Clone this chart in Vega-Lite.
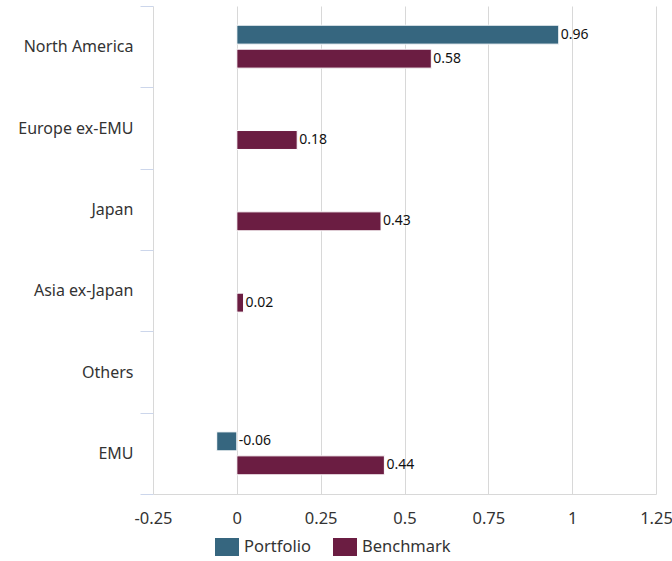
{
  "$schema": "https://vega.github.io/schema/vega-lite/v6.json",
  "width": 503,
  "height": 488,
  "autosize": "none",
  "padding": {"left": 153, "top": 6, "right": 16, "bottom": 67},
  "background": "white",
  "config": {
    "font": "Noto Sans",
    "view": {"stroke": null}
  },
  "data": {
    "values": [
      {"region": "North America", "series": "Portfolio", "value": 0.96},
      {"region": "North America", "series": "Benchmark", "value": 0.58},
      {"region": "Europe ex-EMU", "series": "Benchmark", "value": 0.18},
      {"region": "Japan", "series": "Benchmark", "value": 0.43},
      {"region": "Asia ex-Japan", "series": "Benchmark", "value": 0.02},
      {"region": "EMU", "series": "Portfolio", "value": -0.06},
      {"region": "EMU", "series": "Benchmark", "value": 0.44}
    ]
  },
  "transform": [
    {"calculate": "max(datum.value, 0)", "as": "labelPos"},
    {"calculate": "'' + datum.value", "as": "labelText"}
  ],
  "encoding": {
    "y": {
      "field": "region",
      "type": "nominal",
      "sort": ["North America", "Europe ex-EMU", "Japan", "Asia ex-Japan", "Others", "EMU"],
      "scale": {"domain": ["North America", "Europe ex-EMU", "Japan", "Asia ex-Japan", "Others", "EMU"], "paddingInner": 0, "paddingOuter": 0},
      "axis": {
        "title": null,
        "domain": false,
        "tickBand": "extent",
        "tickColor": "#ccd6eb",
        "tickSize": 13,
        "labelPadding": 7,
        "labelFontSize": 16,
        "labelColor": "#333333",
        "labelFont": "Noto Sans"
      }
    },
    "yOffset": {
      "field": "series",
      "type": "nominal",
      "sort": ["Portfolio", "Benchmark"],
      "scale": {"domain": ["Portfolio", "Benchmark"], "paddingInner": 0.21, "paddingOuter": 0.8}
    }
  },
  "layer": [
    {
      "mark": {"type": "bar", "stroke": "white", "strokeWidth": 1},
      "encoding": {
        "x": {
          "field": "value",
          "type": "quantitative",
          "scale": {"domain": [-0.25, 1.25], "nice": false, "zero": false},
          "axis": {
            "title": null,
            "values": [-0.25, 0, 0.25, 0.5, 0.75, 1, 1.25],
            "labelExpr": "'' + datum.value",
            "grid": true,
            "gridColor": "#d8d8d8",
            "domainColor": "#d8d8d8",
            "ticks": false,
            "tickSize": 0,
            "labelPadding": 16,
            "labelFontSize": 16.5,
            "labelColor": "#333333",
            "labelFont": "Noto Sans",
            "labelFlush": false
          }
        },
        "color": {
          "field": "series",
          "type": "nominal",
          "sort": ["Portfolio", "Benchmark"],
          "scale": {"domain": ["Portfolio", "Benchmark"], "range": ["#36667f", "#6b1d42"]},
          "legend": {
            "title": null,
            "orient": "none",
            "direction": "horizontal",
            "legendX": 65,
            "legendY": 532,
            "symbolType": "M-1.333,-1L1.333,-1L1.333,1L-1.333,1Z",
            "symbolSize": 324,
            "symbolStrokeWidth": 0,
            "labelFontSize": 16.5,
            "labelOffset": 8,
            "labelColor": "#333333",
            "labelFont": "Noto Sans",
            "columnPadding": 22,
            "symbolOffset": 0
          }
        }
      }
    },
    {
      "mark": {"type": "text", "align": "left", "baseline": "middle", "dx": 2, "fontSize": 14, "color": "#111111"},
      "encoding": {
        "x": {"field": "labelPos", "type": "quantitative"},
        "text": {"field": "labelText"}
      }
    }
  ]
}
